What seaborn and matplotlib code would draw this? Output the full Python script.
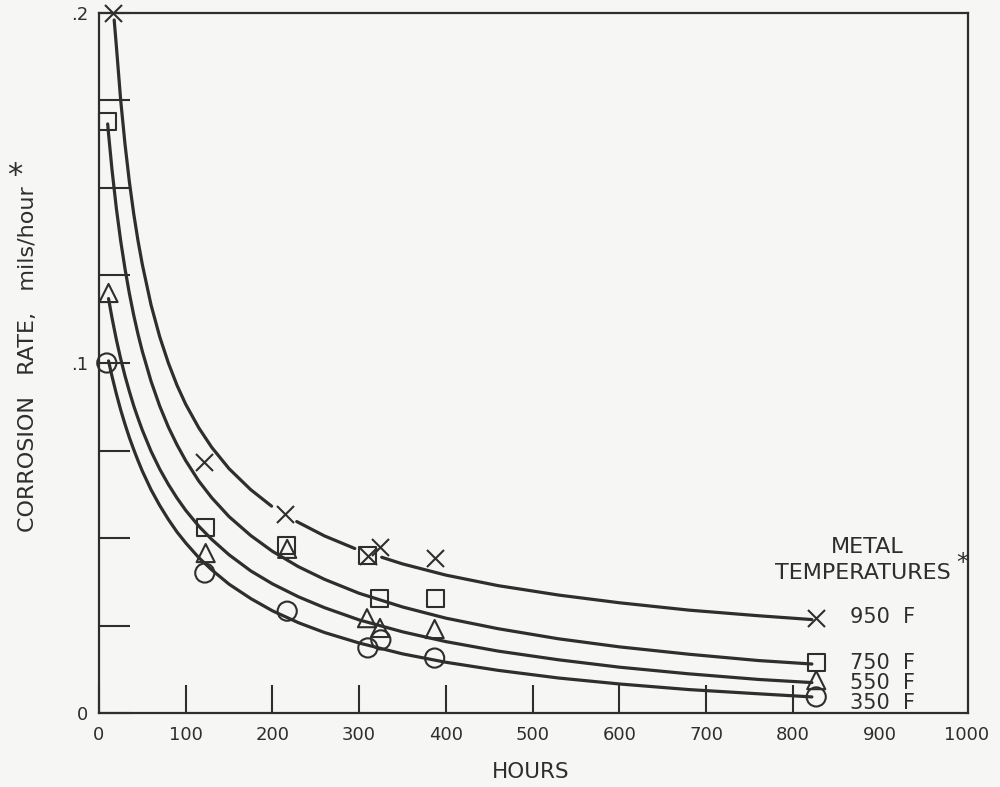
import numpy as np
import pandas as pd
import matplotlib
matplotlib.use("Agg")
import matplotlib.pyplot as plt
import seaborn as sns

# ---------------- data ----------------
# smooth fitted curves (hours -> corrosion rate, mils/hour)
curve_950_hours = [17.5, 20, 25, 30, 35, 40, 45, 50, 60, 70, 80, 90, 100, 115, 130, 150, 175, 199,
                   228, 260, 295, 326, 350, 400, 460, 530, 600, 680, 760, 822]
curve_950_rate = [0.198, 0.1906, 0.1751, 0.1625, 0.1518, 0.1427, 0.1349, 0.1281, 0.1166, 0.1075,
                  0.1000, 0.0936, 0.0882, 0.0815, 0.0759, 0.0698, 0.0638, 0.0591,
                  0.0547, 0.0506, 0.0470, 0.0445, 0.0426, 0.0394, 0.0364, 0.0337, 0.0315, 0.0294,
                  0.0278, 0.0267]
# pieces of the 950 F curve (the drawn line is broken around two of the points)
curve_950_piece = [0] * 18 + [1] * 3 + [2] * 9

curve_750_hours = [10, 11, 15, 20, 25, 30, 35, 40, 45, 50, 60, 70, 80, 90, 100, 115, 130, 150, 175,
                   200, 230, 260, 300, 350, 400, 460, 530, 600, 680, 760, 822]
curve_750_rate = [0.1683, 0.1655, 0.1552, 0.1442, 0.1349, 0.1269, 0.1199, 0.1137, 0.1082, 0.1033,
                  0.0948, 0.0877, 0.0817, 0.0766, 0.0721, 0.0663, 0.0615, 0.0561, 0.0507,
                  0.0462, 0.0418, 0.0382, 0.0342, 0.0303, 0.0271, 0.0241, 0.0212, 0.0189, 0.0168,
                  0.0150, 0.0140]

curve_550_hours = [11, 15, 20, 25, 30, 35, 40, 45, 50, 60, 70, 80, 90, 100, 115, 130, 150, 175,
                   200, 230, 260, 300, 350, 400, 460, 530, 600, 680, 760, 822]
curve_550_rate = [0.1184, 0.1129, 0.1067, 0.1012, 0.0963, 0.0919, 0.0878, 0.0842, 0.0808, 0.0748,
                  0.0697, 0.0653, 0.0614, 0.0579, 0.0534, 0.0496, 0.0452, 0.0406,
                  0.0369, 0.0332, 0.0301, 0.0266, 0.0232, 0.0204, 0.0177, 0.0152, 0.0131, 0.0112,
                  0.0096, 0.0087]

curve_350_hours = [11, 15, 20, 25, 30, 35, 40, 45, 50, 60, 70, 80, 90, 100, 115, 130, 150, 175,
                   200, 230, 260, 300, 350, 400, 460, 530, 600, 680, 760, 822]
curve_350_rate = [0.1006, 0.0962, 0.0912, 0.0866, 0.0825, 0.0787, 0.0753, 0.0721, 0.0691, 0.0638,
                  0.0593, 0.0553, 0.0517, 0.0486, 0.0444, 0.0409, 0.0368, 0.0327,
                  0.0292, 0.0258, 0.0230, 0.0200, 0.0169, 0.0145, 0.0122, 0.0100, 0.0083, 0.0067,
                  0.0055, 0.0046]

# measured points
pts_950_hours = [16, 121, 214, 310, 324, 387, 827]
pts_950_rate = [0.200, 0.0717, 0.0569, 0.0449, 0.0474, 0.0443, 0.0271]

pts_750_hours = [10, 123, 216, 310, 324, 388, 827]
pts_750_rate = [0.169, 0.0531, 0.0480, 0.0449, 0.0326, 0.0326, 0.0143]

pts_550_hours = [11, 123, 217, 309, 324, 387, 827]
pts_550_rate = [0.120, 0.0457, 0.0469, 0.0271, 0.0243, 0.0240, 0.0094]

pts_350_hours = [9, 122, 217, 310, 325, 387, 827]
pts_350_rate = [0.100, 0.0400, 0.0291, 0.0186, 0.0209, 0.0157, 0.0046]

temp_labels = ["950  F", "750  F", "550  F", "350  F"]

x_ticks = [0, 100, 200, 300, 400, 500, 600, 700, 800, 900, 1000]
y_ticks = [0, 0.025, 0.05, 0.075, 0.1, 0.125, 0.15, 0.175, 0.2]
y_tick_labels = ["0", "", "", "", ".1", "", "", "", ".2"]

# ---------------- styling ----------------
INK = "#2e2e2e"
PAPER = "#f6f6f4"

sns.set_theme(style="white")
plt.rcParams["font.family"] = ["DejaVu Sans"]
plt.rcParams["text.color"] = INK

fig = plt.figure(figsize=(10, 7.87), dpi=100, facecolor=PAPER)
ax = fig.add_axes([0.099, 0.094, 0.869, 0.8895], facecolor=PAPER)

# curves
df950 = pd.DataFrame({"hours": curve_950_hours, "rate": curve_950_rate, "piece": curve_950_piece})
sns.lineplot(data=df950, x="hours", y="rate", units="piece", ax=ax, color=INK, linewidth=2.3,
             sort=False, estimator=None, zorder=2)
for hx, ry in [(curve_750_hours, curve_750_rate), (curve_550_hours, curve_550_rate),
               (curve_350_hours, curve_350_rate)]:
    df = pd.DataFrame({"hours": hx, "rate": ry})
    sns.lineplot(data=df, x="hours", y="rate", ax=ax, color=INK, linewidth=2.3,
                 sort=False, estimator=None, zorder=2)

# markers
sns.scatterplot(x=pts_950_hours, y=pts_950_rate, ax=ax, marker="x", s=150, color=INK,
                linewidth=1.5, zorder=4, clip_on=False)
sns.scatterplot(x=pts_750_hours, y=pts_750_rate, ax=ax, marker="s", s=150, color=INK,
                facecolor="none", edgecolor=INK, linewidth=1.5, zorder=4, clip_on=False)
sns.scatterplot(x=pts_550_hours, y=pts_550_rate, ax=ax, marker="^", s=170, color=INK,
                facecolor="none", edgecolor=INK, linewidth=1.5, zorder=4, clip_on=False)
sns.scatterplot(x=pts_350_hours, y=pts_350_rate, ax=ax, marker="o", s=190, color=INK,
                facecolor="none", edgecolor=INK, linewidth=1.5, zorder=4, clip_on=False)

ax.set_xlim(0, 1002)
ax.set_ylim(0, 0.2)
ax.set_xticks(x_ticks)
ax.set_xticklabels([str(v) for v in x_ticks])
ax.set_yticks(y_ticks)
ax.set_yticklabels(y_tick_labels)
ax.tick_params(axis="x", which="major", bottom=True, direction="in", length=20, width=1.5,
               color=INK, labelsize=13, labelcolor=INK, pad=9)
ax.tick_params(axis="y", which="major", left=True, direction="in", length=22, width=1.5,
               color=INK, labelsize=13, labelcolor=INK, pad=8)
xt = ax.xaxis.get_major_ticks()
xt[9].tick1line.set_visible(False)
xt[10].tick1line.set_visible(False)
for sp in ax.spines.values():
    sp.set_color(INK)
    sp.set_linewidth(1.6)
ax.set_xlabel("")
ax.set_ylabel("")

# axis titles
fig.text(0.531, 0.019, "HOURS", ha="center", va="center", fontsize=15.5, color=INK)
fig.text(0.028, 0.324, "CORROSION   RATE,   mils/hour", rotation=90,
         ha="center", va="bottom", fontsize=16, color=INK)
fig.text(0.015, 0.777, "*", ha="center", va="center", fontsize=22, color=INK)

# legend annotations
ax.text(886, 0.0474, "METAL", ha="center", va="center", fontsize=16, color=INK)
ax.text(779, 0.0400, "TEMPERATURES", ha="left", va="center", fontsize=16, color=INK)
ax.text(996, 0.0428, "*", ha="center", va="center", fontsize=18, color=INK)
label_y = [0.0274, 0.0143, 0.0086, 0.0029]
for lab, yy in zip(temp_labels, label_y):
    ax.text(866, yy, lab, ha="left", va="center", fontsize=15, color=INK, zorder=1)

fig.savefig("out.png", dpi=100, facecolor=PAPER)
